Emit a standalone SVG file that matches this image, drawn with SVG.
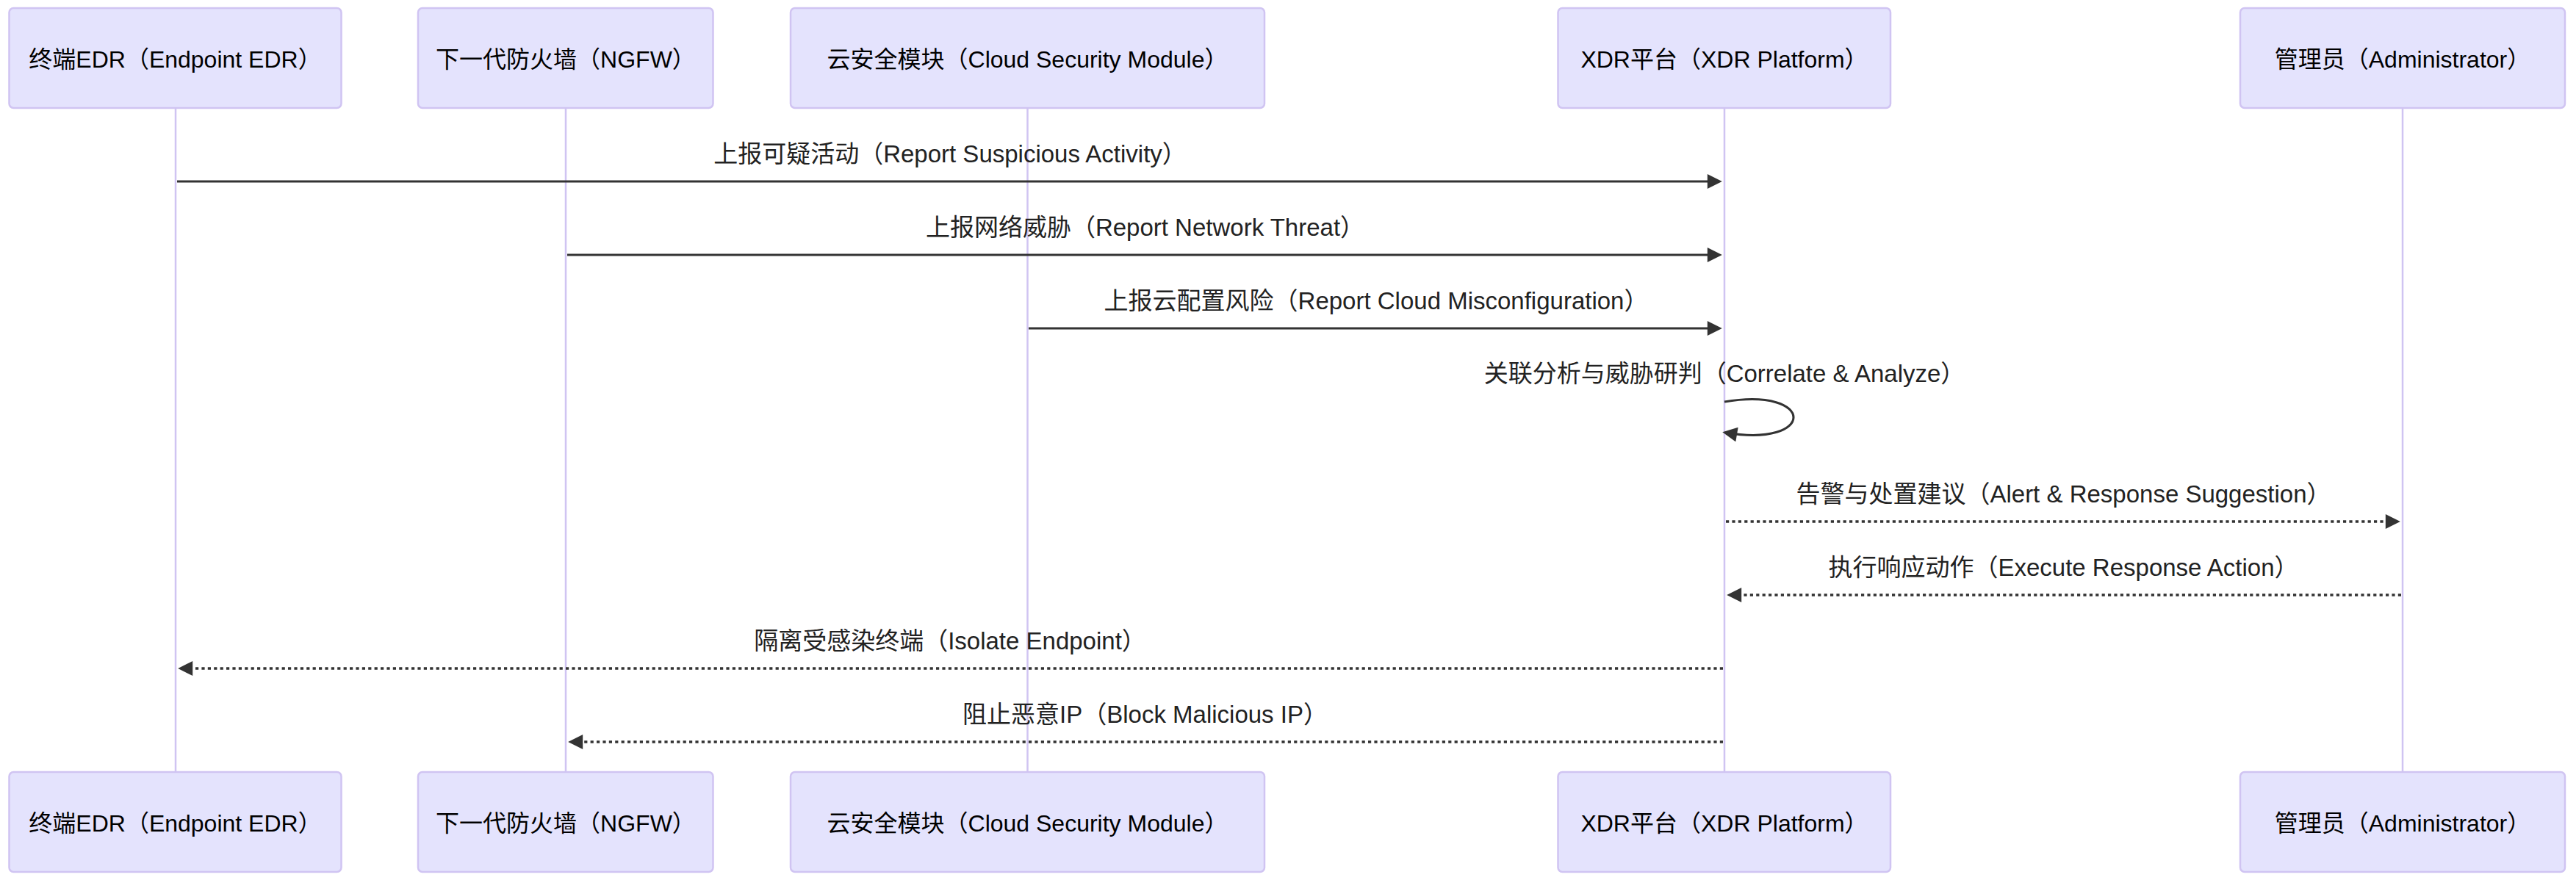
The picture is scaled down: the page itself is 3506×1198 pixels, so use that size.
<svg xmlns="http://www.w3.org/2000/svg" width="3506" height="1198" viewBox="0 0 3506 1198">
<style>
  .bg { fill: #ffffff; }
  .actor { fill: #E4E3FD; stroke: #D0C4F2; stroke-width: 2.5; }
  .actorText { font-family: "Liberation Sans", "Noto Sans CJK SC", sans-serif; font-size: 32px; fill: #000000; text-anchor: middle; }
  .life { stroke: #D0C4F2; stroke-width: 2.5; fill: none; }
  .msg { stroke: #333333; stroke-width: 3.1; fill: none; }
  .dot { stroke-width: 3.6; stroke-dasharray: 4.2 4.2; }
  .msgText { font-family: "Liberation Sans", "Noto Sans CJK SC", sans-serif; font-size: 33px; fill: #222222; text-anchor: middle; }
</style>
<defs>
  <marker id="arrow" viewBox="0 0 10 10" refX="7.6" refY="5" markerWidth="21" markerHeight="20" markerUnits="userSpaceOnUse" orient="auto">
    <path d="M 0 0 L 10 5 L 0 10 z" fill="#333333" stroke="none"/>
  </marker>
</defs>
<rect class="bg" x="0" y="0" width="3506" height="1198"/>

<g id="lifelines">
  <line class="life" x1="239" y1="147" x2="239" y2="1051"/>
  <line class="life" x1="770" y1="147" x2="770" y2="1051"/>
  <line class="life" x1="1398.5" y1="147" x2="1398.5" y2="1051"/>
  <line class="life" x1="2347" y1="147" x2="2347" y2="1051"/>
  <line class="life" x1="3270" y1="147" x2="3270" y2="1051"/>
</g>

<g id="edr">
  <rect class="actor" x="12.5" y="11" width="452" height="136" rx="6"/>
  <text class="actorText" x="238.5" y="92">终端EDR（Endpoint EDR）</text>
  <rect class="actor" x="12.5" y="1051" width="452" height="136" rx="6"/>
  <text class="actorText" x="238.5" y="1132">终端EDR（Endpoint EDR）</text>
</g>
<g id="ngfw">
  <rect class="actor" x="569" y="11" width="401.5" height="136" rx="6"/>
  <text class="actorText" x="770" y="92">下一代防火墙（NGFW）</text>
  <rect class="actor" x="569" y="1051" width="401.5" height="136" rx="6"/>
  <text class="actorText" x="770" y="1132">下一代防火墙（NGFW）</text>
</g>
<g id="cloud">
  <rect class="actor" x="1076" y="11" width="645" height="136" rx="6"/>
  <text class="actorText" x="1398.5" y="92">云安全模块（Cloud Security Module）</text>
  <rect class="actor" x="1076" y="1051" width="645" height="136" rx="6"/>
  <text class="actorText" x="1398.5" y="1132">云安全模块（Cloud Security Module）</text>
</g>
<g id="xdr">
  <rect class="actor" x="2120.5" y="11" width="452.5" height="136" rx="6"/>
  <text class="actorText" x="2347" y="92">XDR平台（XDR Platform）</text>
  <rect class="actor" x="2120.5" y="1051" width="452.5" height="136" rx="6"/>
  <text class="actorText" x="2347" y="1132">XDR平台（XDR Platform）</text>
</g>
<g id="admin">
  <rect class="actor" x="3049" y="11" width="442" height="136" rx="6"/>
  <text class="actorText" x="3270" y="92">管理员（Administrator）</text>
  <rect class="actor" x="3049" y="1051" width="442" height="136" rx="6"/>
  <text class="actorText" x="3270" y="1132">管理员（Administrator）</text>
</g>

<g id="connectors">
  <text class="msgText" x="1293" y="221">上报可疑活动（Report Suspicious Activity）</text>
  <line class="msg" x1="241" y1="247" x2="2339" y2="247" marker-end="url(#arrow)"/>

  <text class="msgText" x="1558.5" y="321">上报网络威胁（Report Network Threat）</text>
  <line class="msg" x1="772" y1="347" x2="2339" y2="347" marker-end="url(#arrow)"/>

  <text class="msgText" x="1873" y="421">上报云配置风险（Report Cloud Misconfiguration）</text>
  <line class="msg" x1="1400" y1="447" x2="2339" y2="447" marker-end="url(#arrow)"/>

  <text class="msgText" x="2347" y="520">关联分析与威胁研判（Correlate &amp; Analyze）</text>
  <path class="msg" d="M 2347 547 C 2472 526 2472 610 2349 589" marker-end="url(#arrow)"/>

  <text class="msgText" x="2808.5" y="684">告警与处置建议（Alert &amp; Response Suggestion）</text>
  <line class="msg dot" x1="2349" y1="710" x2="3262" y2="710" marker-end="url(#arrow)"/>

  <text class="msgText" x="2808.5" y="784">执行响应动作（Execute Response Action）</text>
  <line class="msg dot" x1="3268" y1="810" x2="2355" y2="810" marker-end="url(#arrow)"/>

  <text class="msgText" x="1293" y="884">隔离受感染终端（Isolate Endpoint）</text>
  <line class="msg dot" x1="2345" y1="910" x2="247" y2="910" marker-end="url(#arrow)"/>

  <text class="msgText" x="1558.5" y="984">阻止恶意IP（Block Malicious IP）</text>
  <line class="msg dot" x1="2345" y1="1010" x2="778" y2="1010" marker-end="url(#arrow)"/>
</g>
</svg>
